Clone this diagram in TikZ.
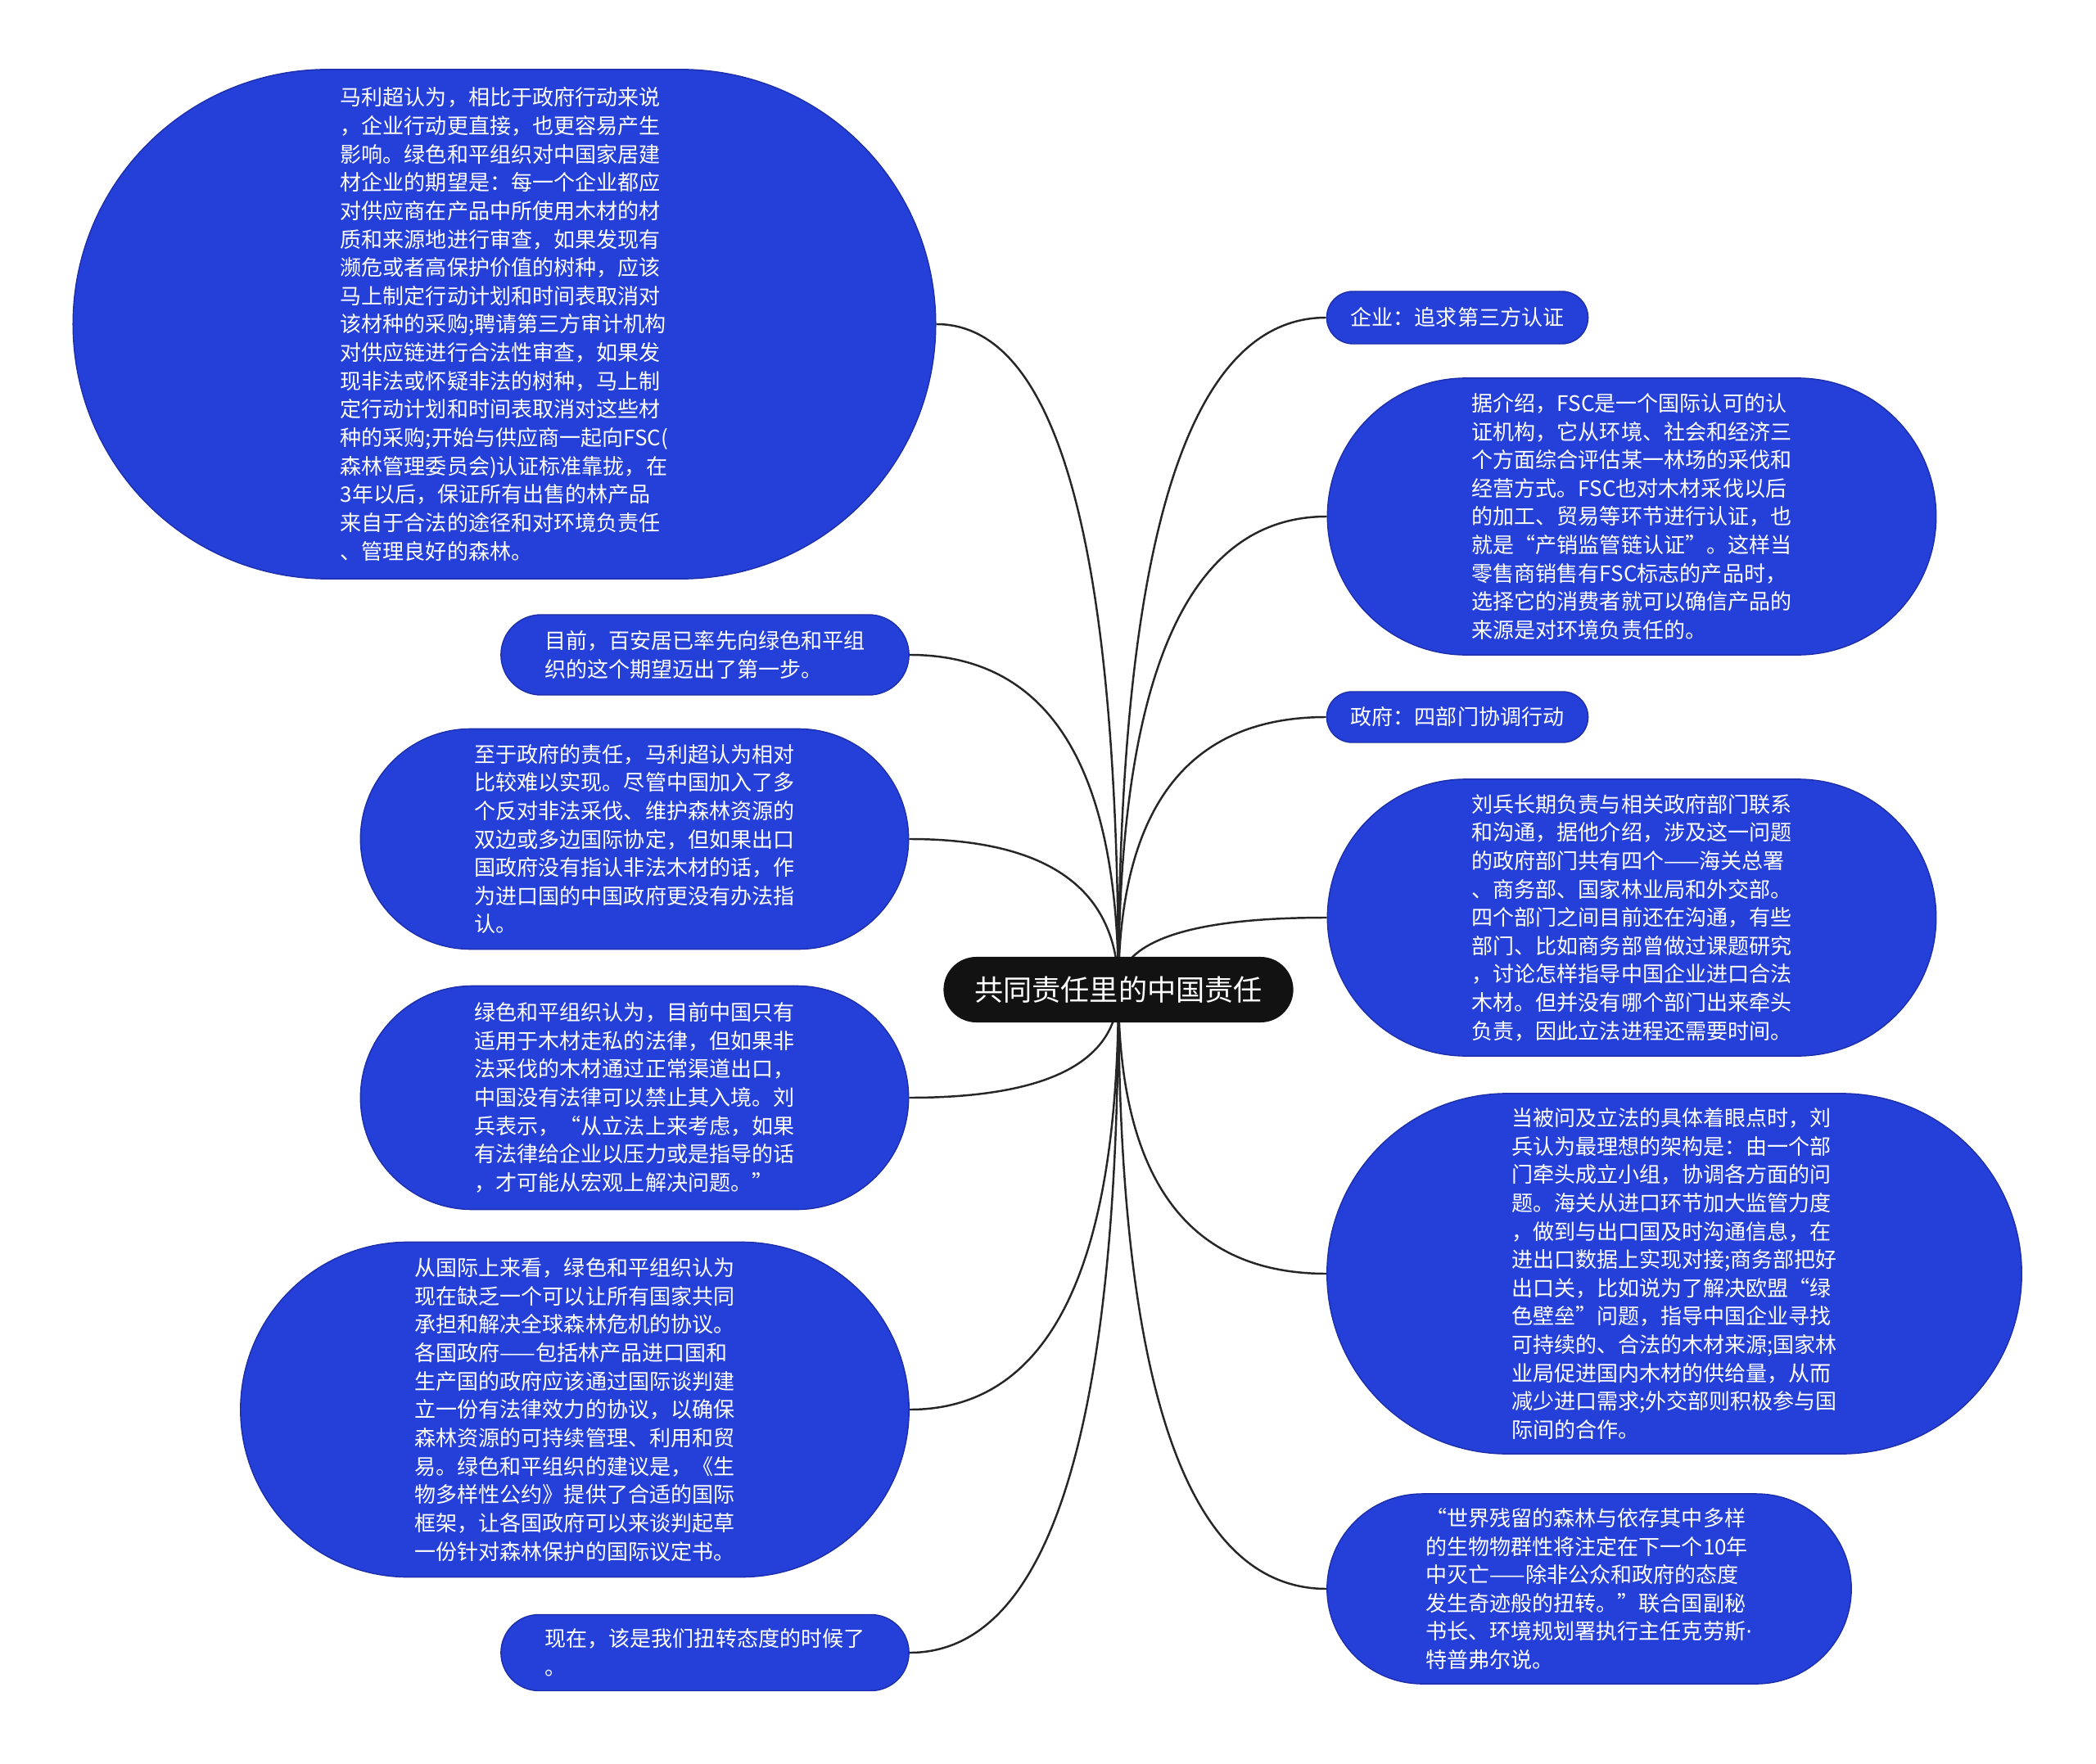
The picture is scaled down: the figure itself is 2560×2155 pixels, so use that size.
\documentclass[tikz,border=0pt]{standalone}
\usepackage{fontspec}
\setmainfont{Noto Sans CJK SC}
\newfontfamily\dotfont{DejaVu Sans}
\usetikzlibrary{calc,backgrounds}

\definecolor{topicblue}{RGB}{37,64,217}
\definecolor{topicedge}{RGB}{28,46,170}
\newcommand{\topicfont}{\fontsize{7.4}{9.85}\selectfont}
\newcommand{\rootfont}{\fontsize{10}{12}\selectfont}

\tikzset{
  topic/.style 2 args={rectangle, fill=topicblue, draw=topicedge, line width=0.4pt,
    text=white, align=left, font=\topicfont, inner sep=0pt,
    minimum width=#1, minimum height=#2, rounded corners=#2/2},
  link/.style={draw=black!85, line width=0.7pt},
}

\begin{document}
\begin{tikzpicture}[x=0.01cm, y=-0.01cm]
  \useasboundingbox (0,0) rectangle (2560,2155);
  % Root
  \node[rectangle, fill=black!93, text=white, font=\rootfont, minimum width=4.27cm,
    minimum height=0.8cm, rounded corners=0.4cm, inner sep=0pt] (root) at (1366,1209) {共同责任里的中国责任};
  % Left branch
  \node[topic={10.53cm}{6.22cm}] (n1) at (616,396) {马利超认为，相比于政府行动来说\\，企业行动更直接，也更容易产生\\影响。绿色和平组织对中国家居建\\材企业的期望是：每一个企业都应\\对供应商在产品中所使用木材的材\\质和来源地进行审查，如果发现有\\濒危或者高保护价值的树种，应该\\马上制定行动计划和时间表取消对\\该材种的采购;聘请第三方审计机构\\对供应链进行合法性审查，如果发\\现非法或怀疑非法的树种，马上制\\定行动计划和时间表取消对这些材\\种的采购;开始与供应商一起向FSC(\\森林管理委员会)认证标准靠拢，在\\3年以后，保证所有出售的林产品\\来自于合法的途径和对环境负责任\\、管理良好的森林。};
  \node[topic={4.98cm}{0.98cm}] (n2) at (861,800) {目前，百安居已率先向绿色和平组\\织的这个期望迈出了第一步。};
  \node[topic={6.69cm}{2.69cm}] (n3) at (775,1025) {至于政府的责任，马利超认为相对\\比较难以实现。尽管中国加入了多\\个反对非法采伐、维护森林资源的\\双边或多边国际协定，但如果出口\\国政府没有指认非法木材的话，作\\为进口国的中国政府更没有办法指\\认。};
  \node[topic={6.69cm}{2.73cm}] (n4) at (775,1341) {绿色和平组织认为，目前中国只有\\适用于木材走私的法律，但如果非\\法采伐的木材通过正常渠道出口，\\中国没有法律可以禁止其入境。刘\\兵表示，“从立法上来考虑，如果\\有法律给企业以压力或是指导的话\\，才可能从宏观上解决问题。”};
  \node[topic={8.16cm}{4.09cm}] (n5) at (702,1722) {从国际上来看，绿色和平组织认为\\现在缺乏一个可以让所有国家共同\\承担和解决全球森林危机的协议。\\各国政府——包括林产品进口国和\\生产国的政府应该通过国际谈判建\\立一份有法律效力的协议，以确保\\森林资源的可持续管理、利用和贸\\易。绿色和平组织的建议是，《生\\物多样性公约》提供了合适的国际\\框架，让各国政府可以来谈判起草\\一份针对森林保护的国际议定书。};
  \node[topic={4.98cm}{0.93cm}] (n6) at (861,2019) {现在，该是我们扭转态度的时候了\\。};
  % Right branch
  \node[topic={3.19cm}{0.64cm}] (n7) at (1780,388) {企业：追求第三方认证};
  \node[topic={7.43cm}{3.38cm}] (n8) at (1993,631) {据介绍，FSC是一个国际认可的认\\证机构，它从环境、社会和经济三\\个方面综合评估某一林场的采伐和\\经营方式。FSC也对木材采伐以后\\的加工、贸易等环节进行认证，也\\就是“产销监管链认证”。这样当\\零售商销售有FSC标志的产品时，\\选择它的消费者就可以确信产品的\\来源是对环境负责任的。};
  \node[topic={3.19cm}{0.62cm}] (n9) at (1780,876) {政府：四部门协调行动};
  \node[topic={7.43cm}{3.38cm}] (n10) at (1993,1121) {刘兵长期负责与相关政府部门联系\\和沟通，据他介绍，涉及这一问题\\的政府部门共有四个——海关总署\\、商务部、国家林业局和外交部。\\四个部门之间目前还在沟通，有些\\部门、比如商务部曾做过课题研究\\，讨论怎样指导中国企业进口合法\\木材。但并没有哪个部门出来牵头\\负责，因此立法进程还需要时间。};
  \node[topic={8.48cm}{4.40cm}] (n11) at (2045,1556) {当被问及立法的具体着眼点时，刘\\兵认为最理想的架构是：由一个部\\门牵头成立小组，协调各方面的问\\题。海关从进口环节加大监管力度\\，做到与出口国及时沟通信息，在\\进出口数据上实现对接;商务部把好\\出口关，比如说为了解决欧盟“绿\\色壁垒”问题，指导中国企业寻找\\可持续的、合法的木材来源;国家林\\业局促进国内木材的供给量，从而\\减少进口需求;外交部则积极参与国\\际间的合作。};
  \node[topic={6.40cm}{2.32cm}] (n12) at (1941,1941) {“世界残留的森林与依存其中多样\\的生物物群性将注定在下一个10年\\中灭亡——除非公众和政府的态度\\发生奇迹般的扭转。”联合国副秘\\书长、环境规划署执行主任克劳斯{\dotfont ·}\\特普弗尔说。};
  % Links
  \begin{pgfonlayer}{background}
    \foreach \n in {n1,n2,n3,n4,n5,n6} {
      \coordinate (k) at (root.center |- \n.east);
      \draw[link] (root.center) .. controls ($(root.center)!.667!(k)$) and ($(\n.east)!.667!(k)$) .. (\n.east);
    }
    \foreach \n in {n7,n8,n9,n10,n11,n12} {
      \coordinate (k) at (root.center |- \n.west);
      \draw[link] (root.center) .. controls ($(root.center)!.667!(k)$) and ($(\n.west)!.667!(k)$) .. (\n.west);
    }
  \end{pgfonlayer}
\end{tikzpicture}
\end{document}
